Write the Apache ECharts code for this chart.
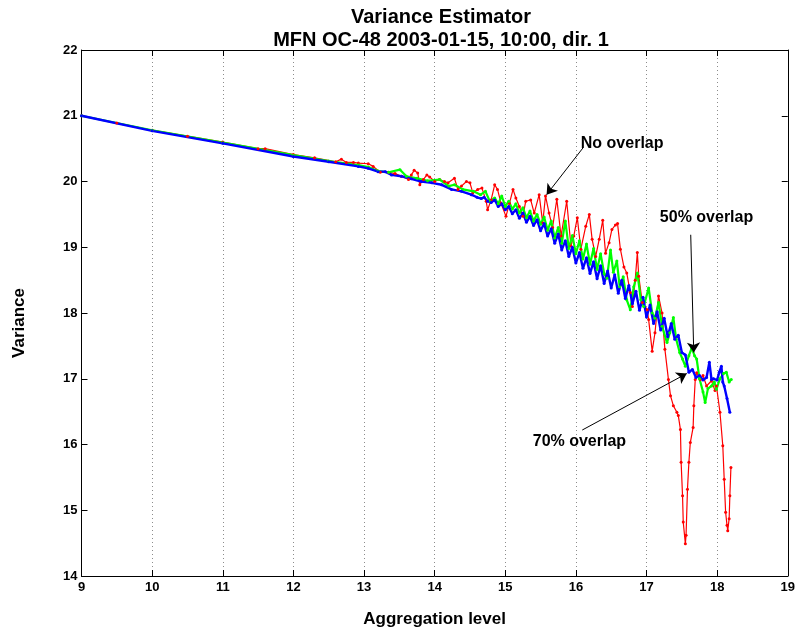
<!DOCTYPE html>
<html>
<head>
<meta charset="utf-8">
<script src="https://cdn.jsdelivr.net/npm/echarts/dist/echarts.min.js"></script>
<style>
  html, body { margin: 0; padding: 0; background: #fff; }
  #chart { width: 798px; height: 633px; }
</style>
</head>
<body>
<div id="chart"></div>
<script>
// aggregation level (x) vs variance (y)
const noOverlap = [
  [9.0, 21.00], [9.5, 20.89], [10.0, 20.78], [10.5, 20.69], [11.0, 20.60], [11.5, 20.50], [11.6, 20.50],
  [12.0, 20.41], [12.3, 20.36], [12.6, 20.30], [12.68, 20.34], [12.75, 20.29], [12.85, 20.29], [12.92, 20.28],
  [13.06, 20.27], [13.13, 20.23], [13.23, 20.14], [13.35, 20.14], [13.44, 20.12], [13.53, 20.08], [13.63, 20.03],
  [13.67, 20.10], [13.71, 20.17], [13.76, 20.13], [13.79, 19.95], [13.84, 20.03], [13.89, 20.10], [13.93, 20.07],
  [14.00, 20.00], [14.07, 20.03], [14.14, 20.00], [14.19, 19.98], [14.28, 20.05], [14.33, 19.88], [14.38, 19.93],
  [14.45, 20.00], [14.50, 19.98], [14.54, 19.83], [14.61, 19.88], [14.67, 19.90], [14.73, 19.70], [14.75, 19.57],
  [14.80, 19.72], [14.85, 19.95], [14.89, 19.88], [14.94, 19.67], [15.01, 19.47], [15.06, 19.67], [15.11, 19.88],
  [15.15, 19.75], [15.20, 19.62], [15.25, 19.47], [15.29, 19.70], [15.36, 19.72], [15.41, 19.52], [15.48, 19.80],
  [15.53, 19.37], [15.57, 19.78], [15.62, 19.52], [15.67, 19.30], [15.73, 19.73], [15.79, 19.17], [15.87, 19.70],
  [15.93, 19.02], [15.97, 19.17], [16.02, 19.45], [16.07, 18.97], [16.14, 19.32], [16.19, 19.50], [16.23, 19.12],
  [16.28, 18.86], [16.33, 19.12], [16.38, 19.41], [16.42, 18.91], [16.47, 19.07], [16.51, 19.27], [16.56, 19.34],
  [16.59, 19.36], [16.63, 18.97], [16.68, 18.70], [16.72, 18.61], [16.77, 18.31], [16.80, 18.10], [16.84, 18.50],
  [16.87, 18.92], [16.89, 18.56], [16.94, 18.16], [17.01, 18.05], [17.03, 17.90], [17.08, 17.42], [17.12, 17.70],
  [17.17, 18.26], [17.22, 18.00], [17.26, 17.45], [17.31, 16.99], [17.34, 16.74], [17.38, 16.59], [17.43, 16.49],
  [17.45, 16.44], [17.48, 16.23], [17.49, 15.73], [17.51, 15.22], [17.52, 14.82], [17.55, 14.49], [17.56, 14.62],
  [17.58, 15.32], [17.60, 15.73], [17.62, 16.03], [17.66, 16.26], [17.67, 16.59], [17.69, 16.99], [17.71, 17.09],
  [17.76, 16.99], [17.80, 17.05], [17.85, 16.89], [17.92, 16.97], [17.97, 16.82], [17.99, 16.89], [18.04, 16.49],
  [18.08, 15.98], [18.10, 15.47], [18.12, 14.97], [18.14, 14.77], [18.15, 14.69], [18.17, 14.87], [18.18, 15.22],
  [18.195, 15.65]
];

const overlap50 = [
  [9.0, 21.00], [10.0, 20.78], [11.0, 20.59], [12.0, 20.40], [12.5, 20.31], [12.92, 20.25], [13.06, 20.22],
  [13.20, 20.16], [13.35, 20.14], [13.51, 20.18], [13.60, 20.08], [13.75, 20.05], [13.90, 20.01], [14.07, 20.03],
  [14.20, 19.93], [14.28, 19.95], [14.40, 19.88], [14.55, 19.85], [14.65, 19.80], [14.72, 19.85], [14.78, 19.70],
  [14.85, 19.75], [14.90, 19.66], [14.95, 19.78], [15.00, 19.62], [15.05, 19.70], [15.10, 19.58], [15.15, 19.66],
  [15.20, 19.52], [15.25, 19.60], [15.30, 19.45], [15.35, 19.55], [15.40, 19.40], [15.45, 19.50], [15.50, 19.35],
  [15.55, 19.46], [15.60, 19.26], [15.65, 19.40], [15.70, 19.14], [15.75, 19.30], [15.80, 19.06], [15.85, 19.40],
  [15.90, 18.98], [15.95, 19.18], [16.00, 18.90], [16.05, 19.10], [16.10, 18.82], [16.15, 19.05], [16.20, 18.74],
  [16.25, 18.98], [16.30, 18.66], [16.35, 18.90], [16.40, 18.60], [16.44, 18.53], [16.49, 18.96], [16.53, 18.62],
  [16.58, 18.79], [16.62, 18.40], [16.67, 18.55], [16.72, 18.20], [16.77, 18.05], [16.82, 18.40], [16.87, 18.61],
  [16.92, 18.20], [16.96, 18.10], [17.03, 18.38], [17.08, 18.00], [17.12, 17.92], [17.17, 18.16], [17.22, 17.80],
  [17.29, 17.55], [17.33, 17.70], [17.38, 17.93], [17.42, 17.60], [17.47, 17.40], [17.51, 17.30], [17.55, 17.19],
  [17.60, 17.35], [17.64, 17.47], [17.68, 17.35], [17.71, 17.30], [17.75, 17.00], [17.80, 16.80], [17.83, 16.64],
  [17.87, 16.85], [17.92, 16.89], [17.96, 16.95], [17.99, 16.84], [18.04, 17.00], [18.09, 17.08], [18.13, 17.10],
  [18.17, 16.95], [18.20, 16.99]
];

const overlap70 = [
  [9.0, 21.00], [10.0, 20.77], [11.0, 20.58], [12.0, 20.38], [12.5, 20.30], [12.92, 20.23], [13.06, 20.20],
  [13.20, 20.15], [13.30, 20.15], [13.39, 20.10], [13.53, 20.08], [13.67, 20.04], [13.81, 20.00], [13.96, 19.98],
  [14.10, 19.95], [14.24, 19.88], [14.38, 19.85], [14.52, 19.80], [14.60, 19.76], [14.66, 19.74], [14.70, 19.76],
  [14.75, 19.70], [14.80, 19.68], [14.85, 19.72], [14.90, 19.62], [14.95, 19.66], [15.00, 19.57], [15.05, 19.62],
  [15.10, 19.51], [15.15, 19.57], [15.20, 19.44], [15.25, 19.52], [15.30, 19.38], [15.35, 19.47], [15.40, 19.33],
  [15.45, 19.42], [15.50, 19.25], [15.55, 19.36], [15.60, 19.17], [15.65, 19.28], [15.70, 19.06], [15.75, 19.20],
  [15.80, 18.96], [15.85, 19.10], [15.90, 18.86], [15.95, 19.00], [16.00, 18.76], [16.05, 18.92], [16.10, 18.68],
  [16.15, 18.84], [16.20, 18.60], [16.25, 18.78], [16.30, 18.52], [16.35, 18.72], [16.40, 18.45], [16.45, 18.64],
  [16.50, 18.38], [16.55, 18.58], [16.60, 18.30], [16.65, 18.50], [16.70, 18.22], [16.75, 18.42], [16.80, 18.14],
  [16.85, 18.33], [16.90, 18.04], [16.95, 18.24], [17.00, 17.94], [17.05, 18.12], [17.10, 17.84], [17.15, 18.02],
  [17.20, 17.74], [17.25, 17.92], [17.30, 17.64], [17.35, 17.84], [17.40, 17.60], [17.45, 17.66], [17.50, 17.40],
  [17.55, 17.36], [17.60, 17.10], [17.65, 17.14], [17.70, 17.02], [17.75, 17.05], [17.80, 16.98], [17.85, 17.02],
  [17.89, 17.25], [17.92, 16.99], [17.95, 17.00], [18.00, 16.98], [18.03, 17.10], [18.06, 17.19], [18.08, 16.95],
  [18.10, 16.89], [18.14, 16.70], [18.18, 16.49]
];

// annotation arrows: [from, to] in data units, and their labels
const arrows = [
  [[16.10, 20.51], [15.585, 19.80]],
  [[17.626, 19.19], [17.669, 17.40]],
  [[16.09, 16.22], [17.57, 17.08]]
];
const notes = [
  ['No overlap', 16.655, 20.57],
  ['50% overlap', 17.85, 19.45],
  ['70% overlap', 16.05, 16.04]
];

const font = 'Liberation Sans, Arial, Helvetica, sans-serif';
const black = '#000';

const chart = echarts.init(document.getElementById('chart'));

const boxAxis = {
  type: 'value',
  axisLine: { show: true, lineStyle: { color: black, width: 1 } },
  axisTick: { show: true, inside: true, length: 6, lineStyle: { color: black } },
  splitLine: { show: false }
};

chart.setOption({
  animation: false,
  backgroundColor: '#fff',
  title: {
    text: 'Variance Estimator\nMFN OC-48 2003-01-15, 10:00, dir. 1',
    left: 436,
    top: 1,
    textAlign: 'center',
    textStyle: { color: black, fontFamily: font, fontWeight: 'bold', fontSize: 20, lineHeight: 23 }
  },
  grid: { left: 81.5, right: 7, top: 50, bottom: 56 },
  xAxis: [
    {
      ...boxAxis,
      min: 9, max: 19, interval: 1,
      position: 'bottom',
      axisLabel: { color: black, fontFamily: font, fontWeight: 'bold', fontSize: 13, margin: 5 },
      splitLine: { show: true, lineStyle: { color: '#8c8c8c', type: [1, 3], width: 1 } },
      name: 'Aggregation level',
      nameLocation: 'middle',
      nameGap: 35,
      nameTextStyle: { color: black, fontFamily: font, fontWeight: 'bold', fontSize: 17 }
    },
    { ...boxAxis, min: 9, max: 19, interval: 1, position: 'top', axisLabel: { show: false } }
  ],
  yAxis: [
    {
      ...boxAxis,
      min: 14, max: 22, interval: 1,
      position: 'left',
      axisLabel: { color: black, fontFamily: font, fontWeight: 'bold', fontSize: 13, margin: 4 },
      name: 'Variance',
      nameLocation: 'middle',
      nameGap: 54,
      nameTextStyle: { color: black, fontFamily: font, fontWeight: 'bold', fontSize: 17, padding: [0, 20, 0, 0] }
    },
    { ...boxAxis, min: 14, max: 22, interval: 1, position: 'right', axisLabel: { show: false } }
  ],
  series: [
    {
      name: 'No overlap', type: 'line', data: noOverlap,
      symbol: 'circle', symbolSize: 3, showAllSymbol: true,
      lineStyle: { color: '#ff0000', width: 1.2 }, itemStyle: { color: '#ff0000' },
      markLine: {
        silent: true, symbol: ['none', 'arrow'], symbolSize: 10,
        lineStyle: { color: black, width: 1, type: 'solid' },
        label: { show: false },
        data: arrows.map(a => [{ coord: a[0] }, { coord: a[1] }])
      },
      markPoint: {
        silent: true, symbol: 'rect', symbolSize: 1,
        itemStyle: { color: 'rgba(0,0,0,0)' },
        label: { show: true, position: 'inside', color: black, fontFamily: font, fontWeight: 'bold', fontSize: 16, formatter: p => p.name },
        data: notes.map(n => ({ name: n[0], coord: [n[1], n[2]] }))
      }
    },
    {
      name: '50% overlap', type: 'line', data: overlap50,
      symbol: 'circle', symbolSize: 3, showAllSymbol: true,
      lineStyle: { color: '#00ff00', width: 2.2 }, itemStyle: { color: '#00ff00' }
    },
    {
      name: '70% overlap', type: 'line', data: overlap70,
      symbol: 'circle', symbolSize: 3, showAllSymbol: true,
      lineStyle: { color: '#0000ff', width: 2.4 }, itemStyle: { color: '#0000ff' }
    }
  ]
});
</script>
</body>
</html>
